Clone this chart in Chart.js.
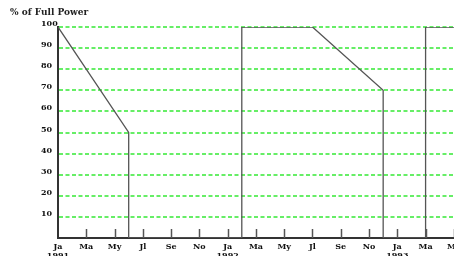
<!DOCTYPE html>
<html><head><meta charset="utf-8">
<script src="https://cdn.jsdelivr.net/npm/chart.js@4"></script>
<style>
html,body{margin:0;padding:0;background:#fff;overflow:hidden;width:454px;height:256px}
#wrap{position:relative;width:454px;height:256px;overflow:hidden;background:#fff}
#c{position:absolute;left:0;top:0}
#title{position:absolute;left:10px;top:7px;font:bold 9px "DejaVu Serif";color:#222;white-space:nowrap;line-height:11px}
</style></head>
<body>
<div id="wrap"><canvas id="c" width="468" height="256" style="width:468px;height:256px"></canvas><div id="title">% of Full Power</div></div>
<script>
// months since January 1991
const months = [0, 5, 5, 13, 13, 18, 23, 23, 26, 26, 29];
const power  = [100, 50, 0, 0, 100, 100, 70, 0, 0, 100, 100];
const tickMonths = [0, 2, 4, 6, 8, 10, 12, 14, 16, 18, 20, 22, 24, 26, 28];
const monthNames = ['Ja','Fe','Ma','Ap','My','Jn','Jl','Au','Se','Oc','No','De'];
const years = ['1991', '1992', '1993'];

const font = {family: 'DejaVu Serif', size: 8, weight: 'bold'};

const innerTicks = {
  id: 'innerTicks',
  afterDatasetsDraw(chart) {
    const x = chart.scales.x, a = chart.chartArea, ctx = chart.ctx;
    ctx.save();
    ctx.strokeStyle = '#555';
    ctx.lineWidth = 1.5;
    tickMonths.forEach(m => {
      if (m === 0) return;
      const px = Math.round(x.getPixelForValue(m)) + 0.5;
      ctx.beginPath();
      ctx.moveTo(px, a.bottom);
      ctx.lineTo(px, a.bottom - 9);
      ctx.stroke();
    });
    ctx.restore();
  }
};

new Chart(document.getElementById('c'), {
  type: 'line',
  data: {
    datasets: [{
      data: months.map((m, i) => ({x: m, y: power[i]})),
      borderColor: '#555',
      borderWidth: 1.3,
      pointRadius: 0,
      tension: 0,
      fill: false
    }]
  },
  options: {
    responsive: false,
    animation: false,
    devicePixelRatio: 1,
    layout: {padding: {left: 41, top: 27, right: 0, bottom: 0}},
    plugins: {legend: {display: false}, tooltip: {enabled: false}, title: {display: false}},
    scales: {
      x: {
        type: 'linear',
        min: 0, max: 29,
        afterBuildTicks: s => { s.ticks = tickMonths.map(v => ({value: v})); },
        afterFit: s => { s.height = 18; },
        grid: {display: false, drawTicks: false},
        border: {display: true, color: '#333', width: 2},
        ticks: {
          font: font, color: '#111', padding: 4, maxRotation: 0, autoSkip: false,
          callback: v => {
            const name = monthNames[v % 12];
            return v % 12 === 0 ? [name, years[v / 12]] : name;
          }
        }
      },
      y: {
        min: 0, max: 100,
        afterFit: s => { s.width = 17; },
        grid: {drawTicks: false, color: '#66ee66', lineWidth: 2},
        border: {display: true, color: '#333', width: 2, dash: [4, 2.5]},
        ticks: {
          stepSize: 10,
          font: font, color: '#111', padding: 0, crossAlign: 'far', labelOffset: -3,
          callback: v => v === 0 ? '' : String(v)
        }
      }
    }
  },
  plugins: [innerTicks]
});
</script>
</body></html>
